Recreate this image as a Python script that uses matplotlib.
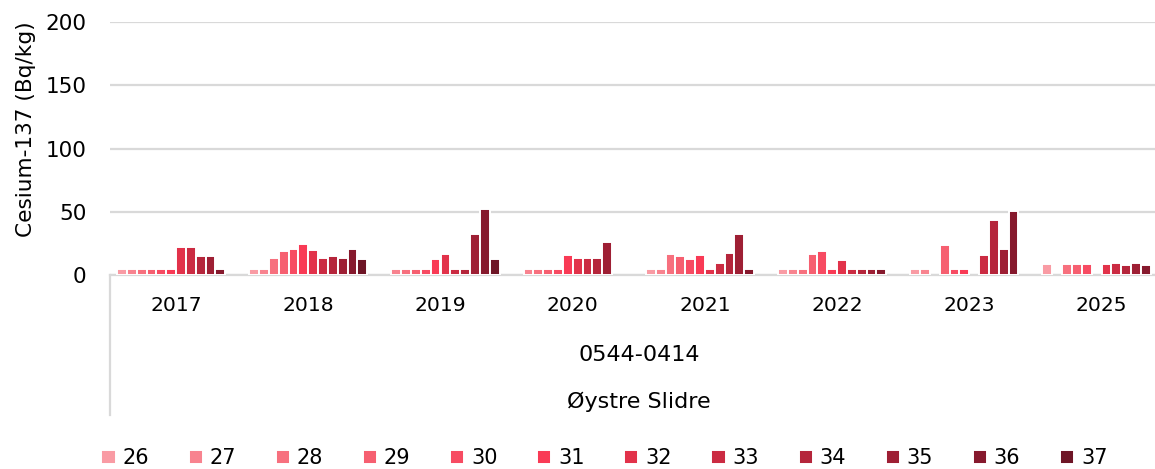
import numpy as np
import matplotlib
matplotlib.use("Agg")
import matplotlib.pyplot as plt
from matplotlib.lines import Line2D

plt.rcParams['font.family'] = ['DejaVu Sans']

# Cs-137 per week (26-37) and year, station 0544-0414, Øystre Slidre
years = ['2017', '2018', '2019', '2020', '2021', '2022', '2023', '2025']
weeks = ['26', '27', '28', '29', '30', '31', '32', '33', '34', '35', '36', '37']
nan = np.nan
cs_2017 = [5, 5, 5, 5, 5, 5, 22, 22, 15, 15, 5, nan]
cs_2018 = [5, 5, 14, 19, 21, 25, 20, 14, 15, 14, 21, 13]
cs_2019 = [nan, 5, 5, 5, 5, 13, 17, 5, 5, 33, 52, 13]
cs_2020 = [nan, 5, 5, 5, 5, 16, 14, 14, 14, 26, nan, nan]
cs_2021 = [5, 5, 17, 15, 13, 16, 5, 10, 18, 33, 5, nan]
cs_2022 = [5, 5, 5, 17, 19, 5, 12, 5, 5, 5, 5, nan]
cs_2023 = [5, 5, nan, 24, 5, 5, nan, 16, 44, 21, 51, nan]
cs_2025 = [9, nan, 9, 9, 9, nan, 9, 10, 8, 10, 8, nan]

week_colors = ['#F99BA4', '#F8838F', '#F7707E', '#F65F70', '#F74B62', '#F93A55',
               '#E2324A', '#CB2B42', '#B5253B', '#9E1F34', '#86192D', '#6E1526']

values = np.array([cs_2017, cs_2018, cs_2019, cs_2020,
                   cs_2021, cs_2022, cs_2023, cs_2025], dtype=float)

W, H = 1155, 469
fig = plt.figure(figsize=(W / 100, H / 100), dpi=100)

# plot area runs past the right edge of the image
ax_left, ax_right = 110, 1167.6
ax_top, ax_bottom = 22, 275.3
ax = fig.add_axes([ax_left / W, (H - ax_bottom) / H,
                   (ax_right - ax_left) / W, (ax_bottom - ax_top) / H])

n = len(weeks)
slot = 0.0744
x0 = np.arange(len(years))
for i, wk in enumerate(weeks):
    xs = x0 - n * slot / 2 + slot * (i + 0.5)
    col = values[:, i]
    ok = ~np.isnan(col)
    ax.bar(xs[ok] + 0.5, col[ok], width=slot, color=week_colors[i],
           edgecolor='white', linewidth=1.4, label=wk, zorder=3)

ax.set_xlim(0, len(years))
ax.set_ylim(0, 200)
ax.set_yticks([0, 50, 100, 150, 200])
ax.grid(axis='y', color='#D9D9D9', linewidth=1.6, zorder=0)
ax.tick_params(axis='y', length=0, pad=17, labelsize=15.5)
ax.set_xticks(x0 + 0.5)
ax.set_xticklabels(years)
ax.tick_params(axis='x', length=0, pad=15, labelsize=14.6)
for s in ['top', 'right', 'left']:
    ax.spines[s].set_visible(False)
ax.spines['bottom'].set_color('#D9D9D9')
ax.spines['bottom'].set_linewidth(1.6)

# outer category levels
cx = (ax_left + ax_right) / 2 / W
fig.text(cx, (H - 355) / H, '0544-0414', ha='center', va='center', fontsize=16)
fig.text(cx, (H - 402) / H, 'Øystre Slidre', ha='center', va='center', fontsize=16)
fig.add_artist(Line2D([ax_left / W] * 2, [(H - ax_bottom) / H, (H - 415) / H],
                      color='#D9D9D9', linewidth=1.6, transform=fig.transFigure))

fig.text(26 / W, (H - 129) / H, 'Cesium-137 (Bq/kg)', rotation=90,
         ha='center', va='center', fontsize=15.6)

fig.legend(loc='center', bbox_to_anchor=(604.5 / W, (H - 458) / H), ncol=12,
           frameon=False, fontsize=15, handlelength=0.68, handleheight=0.65,
           handletextpad=0.33, columnspacing=1.9, borderpad=0)

fig.savefig('out.png', dpi=100)
